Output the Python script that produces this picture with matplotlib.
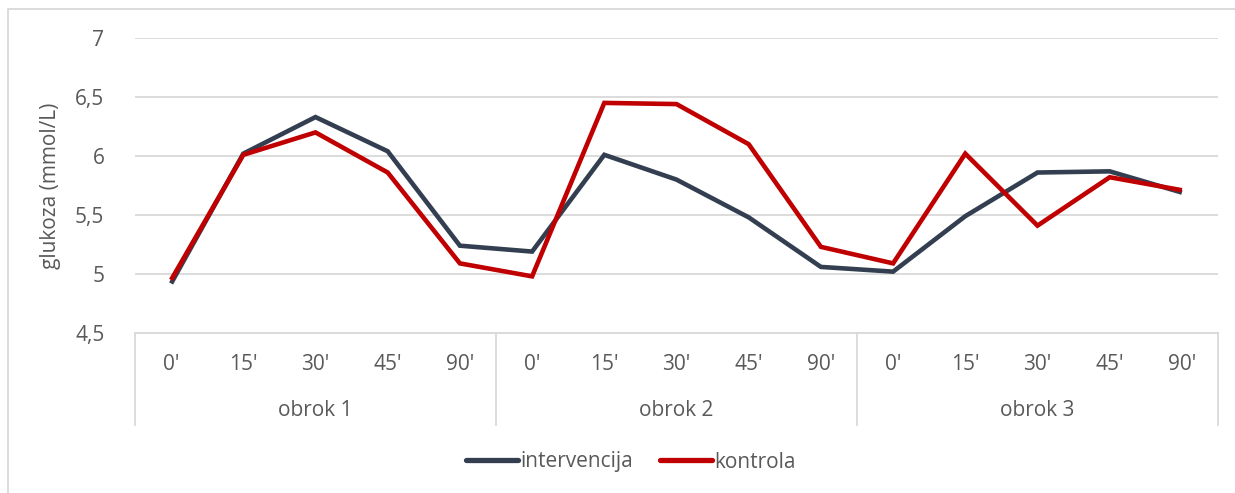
import matplotlib
matplotlib.use("Agg")
import matplotlib.pyplot as plt
from matplotlib.lines import Line2D

plt.rcParams['font.family'] = ['Open Sans', 'DejaVu Sans']

times = ["0'", "15'", "30'", "45'", "90'"]
meals = ["obrok 1", "obrok 2", "obrok 3"]
intervencija = [4.92, 6.02, 6.33, 6.04, 5.24,
                5.19, 6.01, 5.80, 5.48, 5.06,
                5.02, 5.49, 5.86, 5.87, 5.69]
kontrola = [4.95, 6.01, 6.20, 5.86, 5.09,
            4.98, 6.45, 6.44, 6.10, 5.23,
            5.09, 6.02, 5.41, 5.82, 5.71]
yticks = [4.5, 5, 5.5, 6, 6.5, 7]
ytick_labels = ["4,5", "5", "5,5", "6", "6,5", "7"]

W, H = 1235, 493
fig = plt.figure(figsize=(W / 100, H / 100), dpi=100)
L, R, T, B = 135, 1218, 38, 333
ax = fig.add_axes([L / W, 1 - B / H, (R - L) / W, (B - T) / H])

n = len(times) * len(meals)
x = list(range(n))
txt = '#595959'
grid = '#d9d9d9'
fs = 15

ax.plot(x, intervencija, color='#333F50', lw=3.3, solid_joinstyle='miter',
        solid_capstyle='butt', label='intervencija', zorder=3)
ax.plot(x, kontrola, color='#C00000', lw=3.3, solid_joinstyle='miter',
        solid_capstyle='butt', label='kontrola', zorder=4)

ax.set_xlim(-0.5, n - 0.5)
ax.set_ylim(4.5, 7)
ax.set_yticks(yticks)
ax.set_yticklabels(ytick_labels, color=txt, fontsize=fs)
ax.tick_params(axis='y', length=0, pad=22)
ax.set_xticks([])
ax.yaxis.grid(True, color=grid, lw=1.3)
ax.set_axisbelow(True)
for s in ['top', 'right', 'left']:
    ax.spines[s].set_visible(False)
ax.spines['bottom'].set_color(grid)
ax.spines['bottom'].set_linewidth(1.3)

ax.set_ylabel('glukoza (mmol/L)', color=txt, fontsize=fs, labelpad=10)

# multi-level category axis
for i in range(n):
    fig.text((L + (R - L) * (i + 0.5) / n) / W, 1 - 365 / H, times[i % len(times)],
             ha='center', va='center', color=txt, fontsize=fs)
for j, m in enumerate(meals):
    fig.text((L + (R - L) * (j + 0.5) / len(meals)) / W, 1 - 410 / H, m,
             ha='center', va='center', color=txt, fontsize=fs)
for j in range(len(meals) + 1):
    xp = (L + (R - L) * j / len(meals)) / W
    fig.add_artist(Line2D([xp, xp], [1 - B / H, 1 - 425 / H], color=grid, lw=1.3,
                          transform=fig.transFigure))

# chart border (top and left visible)
fig.add_artist(Line2D([8 / W, 8 / W, 1.01], [-0.01, 1 - 9 / H, 1 - 9 / H],
                      color=grid, lw=1.3, transform=fig.transFigure))

leg = fig.legend(loc='center', bbox_to_anchor=(631 / W, 1 - 462 / H), ncol=2,
                 frameon=False, fontsize=fs, handlelength=2.5, handletextpad=0.1,
                 columnspacing=1.3)
for t in leg.get_texts():
    t.set_color(txt)
for h in leg.legend_handles:
    h.set_solid_capstyle('round')
    h.set_linewidth(3.8)

fig.savefig('out.png', dpi=100)
